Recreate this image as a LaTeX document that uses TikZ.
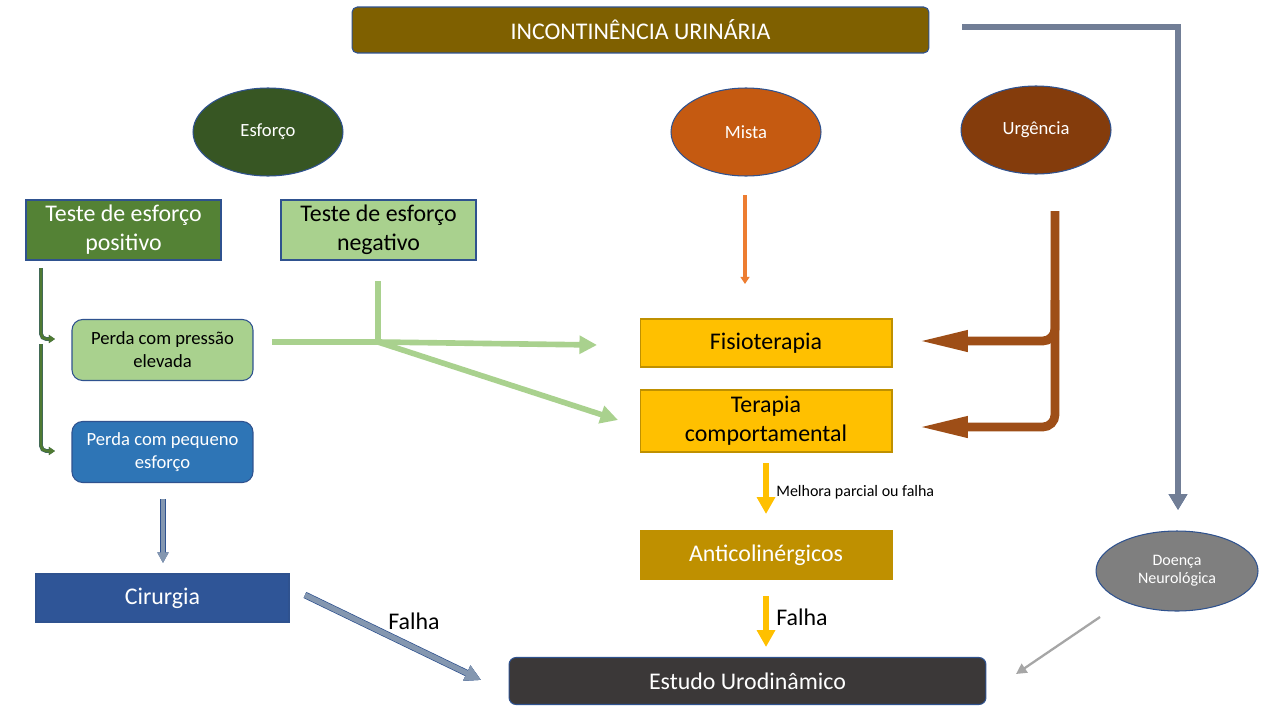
\documentclass[tikz,border=0pt]{standalone}
\usepackage{fontspec}
\setmainfont{Carlito}
\usetikzlibrary{arrows.meta,shapes.geometric}
\definecolor{bordblue}{HTML}{2F528F}
\definecolor{ctitle}{HTML}{7F6000}
\definecolor{cesf}{HTML}{375623}
\definecolor{cmista}{HTML}{C55A11}
\definecolor{curg}{HTML}{843C0C}
\definecolor{cpos}{HTML}{548235}
\definecolor{lgreen}{HTML}{A9D18E}
\definecolor{cpeq}{HTML}{2E75B6}
\definecolor{ccir}{HTML}{2F5597}
\definecolor{cyel}{HTML}{FFC000}
\definecolor{cgold}{HTML}{BF9000}
\definecolor{cest}{HTML}{3B3838}
\definecolor{cdoe}{HTML}{7F7F7F}
\definecolor{corange}{HTML}{ED7D31}
\definecolor{cbrown}{HTML}{9E4E17}
\definecolor{cbgrey}{HTML}{717E96}
\definecolor{cbblue}{HTML}{8497B0}
\definecolor{cdgreen}{HTML}{4F7A32}
\definecolor{cgrey}{HTML}{A6A6A6}
\begin{document}
\begin{tikzpicture}[x=0.02cm,y=-0.02cm,
  big/.style={font=\fontsize{13.6}{16.4}\selectfont},
  med/.style={font=\fontsize{10.6}{13}\selectfont},
  sml/.style={font=\fontsize{9.1}{10.3}\selectfont},
  box/.style={rectangle, draw=bordblue, line width=0.6pt, align=center, inner sep=0pt},
  ell/.style={ellipse, draw=bordblue, line width=0.6pt, align=center, inner sep=0pt, minimum width=3cm, minimum height=1.76cm},
  grn/.style={draw=lgreen, line width=3.2pt},
  gtip/.style={-{Triangle[length=10pt,width=10pt]}},
  brn/.style={draw=cbrown, line width=5pt, rounded corners=7pt, -{Triangle[length=29pt,width=11pt]}},
  yel/.style={draw=cyel, line width=3.4pt, -{Triangle[length=9.6pt,width=10pt]}},
  dgr/.style={draw=cdgreen, line width=1.6pt, rounded corners=3pt, preaction={draw=bordblue!60!cdgreen, line width=2.2pt}, -{Triangle[length=3.5pt,width=4.5pt]}},
  bgr/.style={draw=cbgrey, line width=3pt, preaction={draw=bordblue, line width=3.8pt}, -{Triangle[length=9pt,width=10pt]}},
  bbl/.style={draw=cbblue, line width=2.4pt, preaction={draw=bordblue, line width=3.2pt}, -{Triangle[length=6pt,width=6pt]}},
]
\useasboundingbox (0,0) rectangle (1280,720);
\fill[white] (0,0) rectangle (1280,720);

% nodes
\node[box, big, fill=ctitle, text=white, rounded corners=3pt, minimum width=11.54cm, minimum height=0.92cm] (title) at (640.5,30) {INCONTINÊNCIA URINÁRIA};
\node[ell, med, fill=cesf, text=white] (esf) at (268,132) {Esforço};
\node[ell, med, fill=cmista, text=white] (mista) at (746,132) {Mista};
\node[ell, med, fill=curg, text=white] (urg) at (1036,130) {Urgência};
\node[box, big, fill=cpos, text=white, minimum width=3.9cm, minimum height=1.2cm] (tpos) at (123.5,230) {Teste de esforço\\positivo};
\node[box, big, fill=lgreen, text=black, minimum width=3.9cm, minimum height=1.2cm] (tneg) at (378.5,230) {Teste de esforço\\negativo};
\node[box, med, fill=lgreen, text=black, rounded corners=6pt, minimum width=3.62cm, minimum height=1.22cm] (ppres) at (162.5,350) {Perda com pressão\\elevada};
\node[box, med, fill=cpeq, text=white, rounded corners=6pt, minimum width=3.62cm, minimum height=1.22cm] (ppeq) at (162.5,452) {Perda com pequeno\\esforço};
\node[box, big, fill=ccir, text=white, minimum width=5.06cm, minimum height=0.96cm] (cir) at (162.5,598) {Cirurgia};
\node[box, big, draw=cgold, fill=cyel, text=black, minimum width=5.04cm, minimum height=0.96cm] (fis) at (766,343) {Fisioterapia};
\node[box, big, draw=cgold, fill=cyel, text=black, minimum width=5.04cm, minimum height=1.24cm] (ter) at (766,421) {Terapia\\comportamental};
\node[box, big, draw=cgold, fill=cgold, text=white, minimum width=5.04cm, minimum height=0.96cm] (anti) at (766,555) {Anticolinérgicos};
\node[box, big, fill=cest, text=white, rounded corners=4pt, minimum width=9.54cm, minimum height=0.94cm] (est) at (747.5,681) {Estudo Urodinâmico};
\node[ell, sml, fill=cdoe, text=white, minimum width=3.24cm, minimum height=1.6cm] (doe) at (1177,571) {Doença\\Neurológica};

% coordinates for free ends
\coordinate (p1s) at (41,268);
\coordinate (p1e) at (55,339);
\coordinate (p2s) at (41,344);
\coordinate (p2e) at (55,451);
\coordinate (gs) at (272,342);
\coordinate (gn) at (378,281);
\coordinate (gj) at (378,342);
\coordinate (gf) at (597,345);
\coordinate (gt) at (618,420);
\coordinate (ms) at (745,195);
\coordinate (me) at (745,284);
\coordinate (us) at (1055,211);
\coordinate (ub) at (1055,300);
\coordinate (uf) at (917,341);
\coordinate (ut) at (917,427);
\coordinate (ts) at (962,27);
\coordinate (tc) at (1178,27);
\coordinate (te) at (1178,510);
\coordinate (cs) at (163,499);
\coordinate (ce) at (163,563);
\coordinate (es) at (305,595);
\coordinate (ee) at (481,680);
\coordinate (ys1) at (766,463);
\coordinate (ye1) at (766,514);
\coordinate (ys2) at (766,596);
\coordinate (ye2) at (766,647);
\coordinate (ds) at (1100,617);
\coordinate (de) at (1016,674);

% connectors
\draw[dgr] (p1s) |- (p1e);
\draw[dgr] (p2s) |- (p2e);

\draw[grn] (gs) -- (gj);
\draw[grn] (gn) -- (gj);
\draw[grn, gtip] (gj) -- (gf);
\draw[grn, gtip] (gj) -- (gt);

\draw[draw=corange, line width=1.8pt, -{Triangle[length=4pt,width=5pt]}] (ms) -- (me);

\draw[brn] (us) |- (ut);
\draw[brn] (ub) |- (uf);

\draw[bgr] (ts) -- (tc) -- (te);

\draw[bbl] (cs) -- (ce);
\draw[bbl, line width=3pt, preaction={draw=bordblue, line width=3.8pt}, -{Triangle[length=9pt,width=9pt]}] (es) -- (ee);
\node[big, anchor=center] (lf1) at (414,621) {Falha};

\draw[yel] (ys1) -- (ye1);
\node[sml, anchor=west, inner sep=0pt] (lm) at (776,492) {Melhora parcial ou falha};
\draw[yel] (ys2) -- (ye2);
\node[big, anchor=west, inner sep=0pt] (lf2) at (776,617) {Falha};

\draw[draw=cgrey, line width=1.3pt, -{Triangle[length=6pt,width=6pt]}] (ds) -- (de);
\end{tikzpicture}
\end{document}
